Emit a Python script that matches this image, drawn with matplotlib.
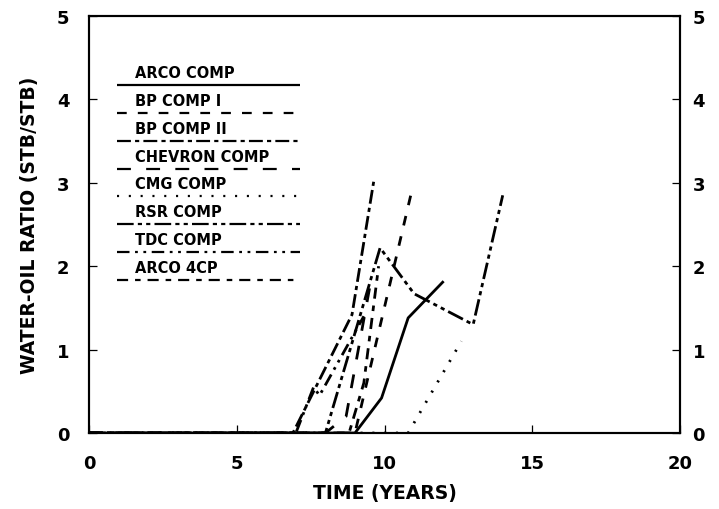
import matplotlib
matplotlib.use("Agg")
import matplotlib.pyplot as plt

plt.rcParams["font.family"] = ["DejaVu Sans"]
plt.rcParams["font.weight"] = "bold"
plt.rcParams["lines.scale_dashes"] = False

# Water-oil ratio vs time, one series per simulator
series_names = ["ARCO COMP", "BP COMP I", "BP COMP II", "CHEVRON COMP",
                "CMG COMP", "RSR COMP", "TDC COMP", "ARCO 4CP"]

arco_t = [0, 9.0, 9.9, 10.8, 12.0]
arco_w = [0, 0, 0.42, 1.38, 1.82]
bp1_t = [0, 9.0, 10.9]
bp1_w = [0, 0, 2.87]
bp2_t = [0, 6.9, 8.9, 9.65]
bp2_w = [0, 0, 1.42, 3.05]
chevron_t = [0, 8.0, 8.7, 9.5]
chevron_w = [0, 0, 0.2, 1.75]
cmg_t = [0, 10.8, 12.6]
cmg_w = [0, 0, 1.1]
rsr_t = [0, 8.0, 9.85, 11.0, 13.0, 14.0]
rsr_w = [0, 0, 2.22, 1.67, 1.3, 2.85]
tdc_t = [0, 7.0, 7.6, 7.8, 9.3]
tdc_w = [0, 0, 0.55, 0.45, 1.4]
arco4_t = [0, 8.8, 9.3, 9.8]
arco4_w = [0, 0, 0.6, 2.0]

series_t = [arco_t, bp1_t, bp2_t, chevron_t, cmg_t, rsr_t, tdc_t, arco4_t]
series_w = [arco_w, bp1_w, bp2_w, chevron_w, cmg_w, rsr_w, tdc_w, arco4_w]

# dash patterns (on/off in points)
styles = [
    (0, ()),
    (0, (7, 8)),
    (0, (10, 3, 3, 3)),
    (0, (10, 11)),
    (0, (1.5, 7)),
    (0, (12, 3, 3, 3, 3, 3)),
    (0, (9, 4, 2, 4, 2, 4)),
    (0, (8, 5, 4, 5)),
]

fig = plt.figure(figsize=(7.19, 5.10), dpi=100)
ax = fig.add_axes([0.1238, 0.149, 0.822, 0.8177])

for t, w, ls in zip(series_t, series_w, styles):
    ax.plot(t, w, color="black", lw=2.0, linestyle=ls)

# legend: label above a sample line
for i, (name, ls) in enumerate(zip(series_names, styles)):
    y_line = 4.17 - i * 0.333
    ax.plot([0.95, 7.15], [y_line, y_line], color="black", lw=1.6, linestyle=ls)
    ax.text(1.55, y_line + 0.15, name, fontsize=10.5, fontweight="bold",
            ha="left", va="center")

ax.set_xlim(0, 20)
ax.set_ylim(0, 5)
ax.set_xticks([0, 5, 10, 15, 20])
ax.set_yticks([0, 1, 2, 3, 4, 5])
ax.tick_params(direction="in", length=6, width=0.9, labelsize=13)
ax.tick_params(axis="x", pad=15)
ax.tick_params(axis="y", pad=14)
for lab in ax.get_xticklabels() + ax.get_yticklabels():
    lab.set_fontweight("bold")
for s in ax.spines.values():
    s.set_linewidth(1.5)

# right-hand copy of the WOR scale
ax2 = ax.twinx()
ax2.set_ylim(0, 5)
ax2.set_yticks([0, 1, 2, 3, 4, 5])
ax2.tick_params(direction="in", length=6, width=0.9, labelsize=13, pad=9)
for lab in ax2.get_yticklabels():
    lab.set_fontweight("bold")
for s in ax2.spines.values():
    s.set_linewidth(1.5)

ax.set_xlabel("TIME (YEARS)", fontsize=13.5, fontweight="bold", labelpad=8)
ax.set_ylabel("WATER-OIL RATIO (STB/STB)", fontsize=13.5, fontweight="bold",
              labelpad=13)

fig.savefig("out.png", dpi=100)
